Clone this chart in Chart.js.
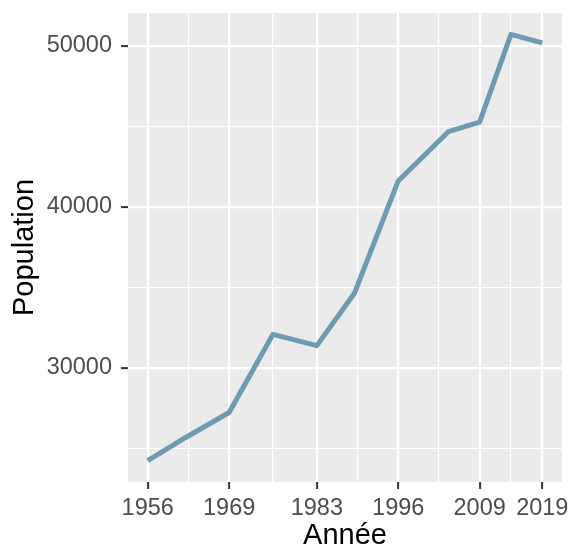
<!DOCTYPE html>
<html>
<head>
<meta charset="utf-8">
<script src="https://cdn.jsdelivr.net/npm/chart.js@4.4.1/dist/chart.umd.min.js"></script>
<style>
  html, body { margin: 0; padding: 0; background: #fff; }
</style>
</head>
<body>
<canvas id="popChart" width="568" height="550"></canvas>
<script>
// données
const years = [1956, 1962, 1969, 1976, 1983, 1989, 1996, 2004, 2009, 2014, 2019];
const population = [24225, 25650, 27220, 32075, 31370, 34620, 41600, 44660, 45260, 50707, 50170];
const xTickYears = [1956, 1969, 1983, 1996, 2009, 2019];
const yTickValues = [30000, 40000, 50000];

// minor grid lines sit halfway between major breaks (ggplot style)
const xMinor = xTickYears.slice(1).map((y, i) => (y + xTickYears[i]) / 2);
const yMinor = [25000, 35000, 45000];

const panelBg = {
    id: 'panelBg',
    beforeDraw(chart) {
        const { ctx, chartArea: a } = chart;
        ctx.save();
        ctx.fillStyle = '#EBEBEB';
        ctx.fillRect(a.left, a.top, a.right - a.left, a.bottom - a.top);
        ctx.restore();
    }
};

const tickFont = { family: 'Liberation Sans', size: 23.5 };
const titleFont = { family: 'Liberation Sans', size: 29, lineHeight: 1 };

new Chart(document.getElementById('popChart'), {
    type: 'line',
    data: {
        datasets: [{
            data: years.map((y, i) => ({ x: y, y: population[i] })),
            borderColor: '#6E9BB2',
            borderWidth: 5,
            pointRadius: 0,
            tension: 0,
            borderJoinStyle: 'round',
            fill: false,
        }],
    },
    options: {
        responsive: false,
        animation: false,
        layout: { padding: { left: 0, right: 6, top: 13, bottom: 0 } },
        plugins: { legend: { display: false }, tooltip: { enabled: false } },
        scales: {
            x: {
                type: 'linear',
                min: 1952.85,
                max: 2022.15,
                afterBuildTicks: s => {
                    s.ticks = xTickYears.concat(xMinor).sort((a, b) => a - b).map(v => ({ value: v }));
                },
                afterFit: s => { s.height = 68; s.paddingLeft = 0; s.paddingRight = 0; },
                ticks: {
                    autoSkip: false,
                    maxRotation: 0,
                    color: '#4D4D4D',
                    font: tickFont,
                    padding: 5,
                    callback: v => xTickYears.includes(v) ? String(v) : '',
                },
                grid: {
                    color: '#FFFFFF',
                    lineWidth: c => xTickYears.includes(c.tick.value) ? 2.2 : 1.1,
                    tickColor: c => xTickYears.includes(c.tick.value) ? '#333333' : 'rgba(0,0,0,0)',
                    tickLength: 7,
                    tickWidth: 2,
                },
                border: { display: false },
                title: { display: true, text: 'Année', color: '#000', font: titleFont, padding: { top: 0, bottom: 0 } },
            },
            y: {
                type: 'linear',
                min: 22901,
                max: 52031,
                afterBuildTicks: s => {
                    s.ticks = yTickValues.concat(yMinor).sort((a, b) => a - b).map(v => ({ value: v }));
                },
                afterFit: s => { s.width = 128; s.paddingTop = 0; s.paddingBottom = 0; },
                ticks: {
                    color: '#4D4D4D',
                    font: tickFont,
                    padding: 9,
                    callback: v => yTickValues.includes(v) ? String(v) : '',
                },
                grid: {
                    color: '#FFFFFF',
                    lineWidth: c => yTickValues.includes(c.tick.value) ? 2.2 : 1.1,
                    tickColor: c => yTickValues.includes(c.tick.value) ? '#333333' : 'rgba(0,0,0,0)',
                    tickLength: 7,
                    tickWidth: 2,
                },
                border: { display: false },
                title: { display: true, text: 'Population', color: '#000', font: titleFont, padding: { top: 10, bottom: 0 } },
            },
        },
    },
    plugins: [panelBg],
});
</script>
</body>
</html>
